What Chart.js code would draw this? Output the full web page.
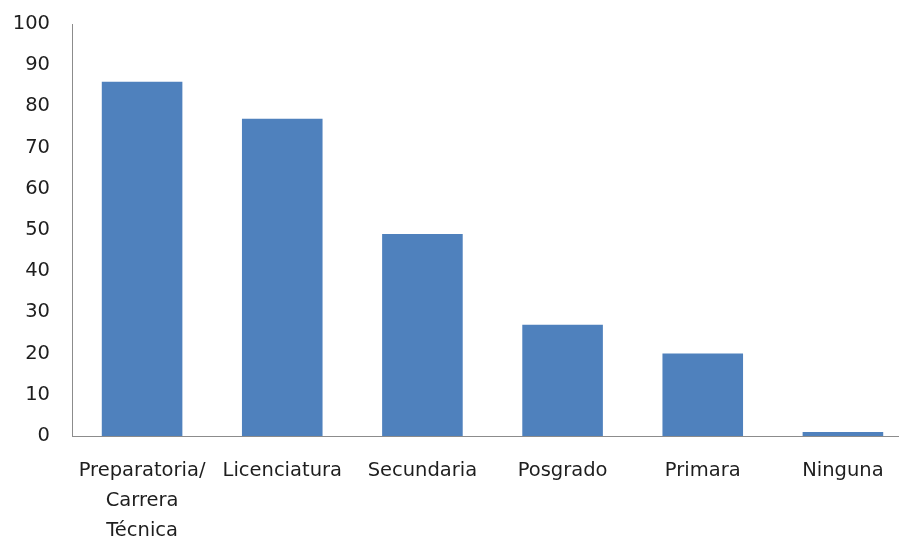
<!DOCTYPE html>
<html>
<head>
<meta charset="utf-8">
<script src="https://cdn.jsdelivr.net/npm/chart.js@4/dist/chart.umd.min.js"></script>
<style>
  html, body { margin: 0; padding: 0; background: #fff; overflow: hidden; }
  #wrap { width: 899px; height: 545px; overflow: hidden; position: relative; }
  #inner { width: 913px; height: 545px; position: relative; }
</style>
</head>
<body>
<div id="wrap"><div id="inner"><canvas id="c"></canvas></div></div>
<script>
// Nivel de estudios
const categories = [
  ["Preparatoria/", "Carrera", "Técnica"],
  "Licenciatura",
  "Secundaria",
  "Posgrado",
  "Primara",
  "Ninguna"
];
const values = [86, 77, 49, 27, 20, 1];
const yTicks = [0, 10, 20, 30, 40, 50, 60, 70, 80, 90, 100];

const family = "'DejaVu Sans', 'Open Sans', sans-serif";
const size = 19.5;

new Chart(document.getElementById('c'), {
  type: 'bar',
  data: {
    labels: categories,
    datasets: [{
      data: values,
      backgroundColor: '#4F81BD',
      borderWidth: 0,
      categoryPercentage: 1.0,
      barPercentage: 0.575
    }]
  },
  options: {
    responsive: true,
    maintainAspectRatio: false,
    animation: false,
    layout: { padding: { top: 24, right: 0, left: 0, bottom: 0 } },
    plugins: { legend: { display: false }, tooltip: { enabled: false } },
    scales: {
      x: {
        grid: { display: false, drawTicks: false },
        border: { display: true, color: '#8c8c8c', width: 1 },
        ticks: { color: '#1e1e1e', font: { family: family, size: size, lineHeight: 1.54 }, padding: 20, maxRotation: 0, autoSkip: false },
        afterFit: (s) => { s.height = 109; }
      },
      y: {
        min: 0, max: 100,
        afterBuildTicks: (s) => { s.ticks = yTicks.map(v => ({ value: v })); },
        grid: { display: false, drawTicks: false },
        border: { display: true, color: '#8c8c8c', width: 1 },
        ticks: { color: '#1e1e1e', font: { family: family, size: size }, padding: 22 },
        afterFit: (s) => { s.width = 72; s.paddingTop = 0; s.paddingBottom = 0; }
      }
    }
  }
});
</script>
</body>
</html>
